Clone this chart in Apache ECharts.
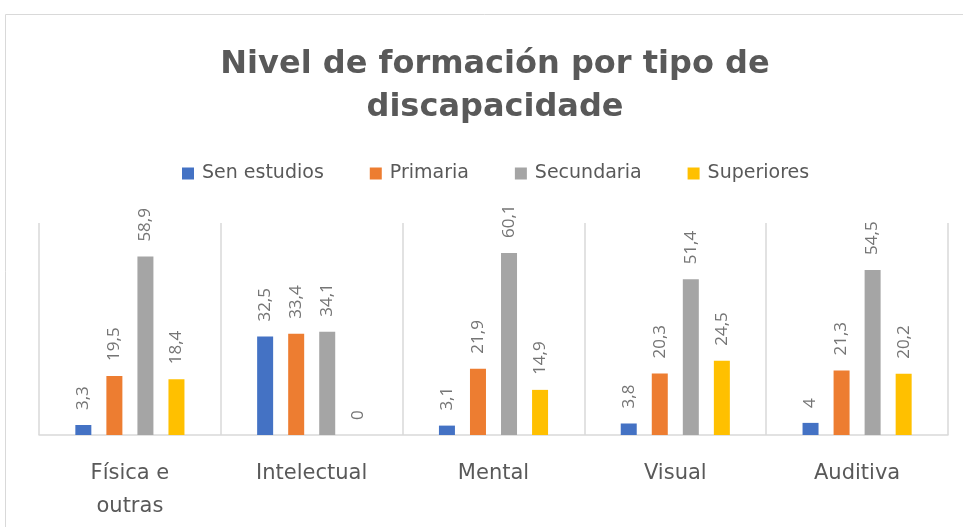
<!DOCTYPE html>
<html>
<head>
<meta charset="utf-8">
<title>Nivel de formación por tipo de discapacidade</title>
<script src="https://cdn.jsdelivr.net/npm/echarts@6/dist/echarts.min.js"></script>
<style>
  html, body { margin: 0; padding: 0; background: #fff; }
  #chart { width: 963px; height: 527px; }
</style>
</head>
<body>
<div id="chart"></div>
<script>
// categorías e series
var categories = ['Física e\noutras', 'Intelectual', 'Mental', 'Visual', 'Auditiva']
var senEstudios = [3.3, 32.5, 3.1, 3.8, 4]
var primaria = [19.5, 33.4, 21.9, 20.3, 21.3]
var secundaria = [58.9, 34.1, 60.1, 51.4, 54.5]
var superiores = [18.4, 0, 14.9, 24.5, 20.2]
var seriesNames = ['Sen estudios', 'Primaria', 'Secundaria', 'Superiores']
var colors = ['#4472C4', '#ED7D31', '#A5A5A5', '#FFC000']

var textColor = '#595959'
var fontName = '"Open Sans", "Noto Sans", sans-serif'
var wideFont = '"DejaVu Sans", "Open Sans", sans-serif'

// etiqueta rotada con coma decimal
function barLabel() {
  return {
    show: true,
    position: 'top',
    rotate: 90,
    align: 'left',
    verticalAlign: 'middle',
    distance: 15,
    color: '#757575',
    fontSize: 17,
    fontFamily: fontName,
    formatter: function (p) {
      return String(p.value).replace('.', ',')
    }
  }
}

function makeSeries(name, data) {
  return {
    name: name,
    type: 'bar',
    barWidth: 16,
    barGap: '94%',
    data: data,
    label: barLabel()
  }
}

var chart = echarts.init(document.getElementById('chart'))
var options = {
  color: colors,
  animation: false,
  title: {
    text: 'Nivel de formación por tipo de\ndiscapacidade',
    left: 490,
    top: 38,
    textAlign: 'center',
    textStyle: {
      color: textColor,
      fontSize: 32,
      fontWeight: 'bold',
      fontFamily: wideFont,
      lineHeight: 43
    }
  },
  legend: {
    data: seriesNames,
    left: 177,
    top: 159,
    itemWidth: 12,
    itemHeight: 12,
    itemGap: 46,
    icon: 'rect',
    textStyle: {
      color: textColor,
      fontSize: 19,
      fontFamily: wideFont,
      padding: [0, 0, 0, 3]
    }
  },
  grid: {
    left: 39,
    right: 15,
    top: 223,
    bottom: 92
  },
  xAxis: {
    type: 'category',
    data: categories,
    axisLine: { lineStyle: { color: '#d9d9d9', width: 1.5 } },
    axisTick: { show: false },
    splitLine: { show: true, lineStyle: { color: '#d9d9d9', width: 1.5 } },
    axisLabel: {
      interval: 0,
      margin: 22,
      color: textColor,
      fontSize: 21,
      lineHeight: 33,
      fontFamily: wideFont
    }
  },
  yAxis: {
    type: 'value',
    min: 0,
    max: 70,
    show: false,
    splitLine: { show: false }
  },
  graphic: [{
    type: 'rect',
    silent: true,
    shape: { x: 5.5, y: 14.5, width: 1000, height: 600 },
    style: { fill: 'none', stroke: '#d9d9d9', lineWidth: 1 }
  }],
  series: [
    makeSeries(seriesNames[0], senEstudios),
    makeSeries(seriesNames[1], primaria),
    makeSeries(seriesNames[2], secundaria),
    makeSeries(seriesNames[3], superiores)
  ]
}
chart.setOption(options)
</script>
</body>
</html>
